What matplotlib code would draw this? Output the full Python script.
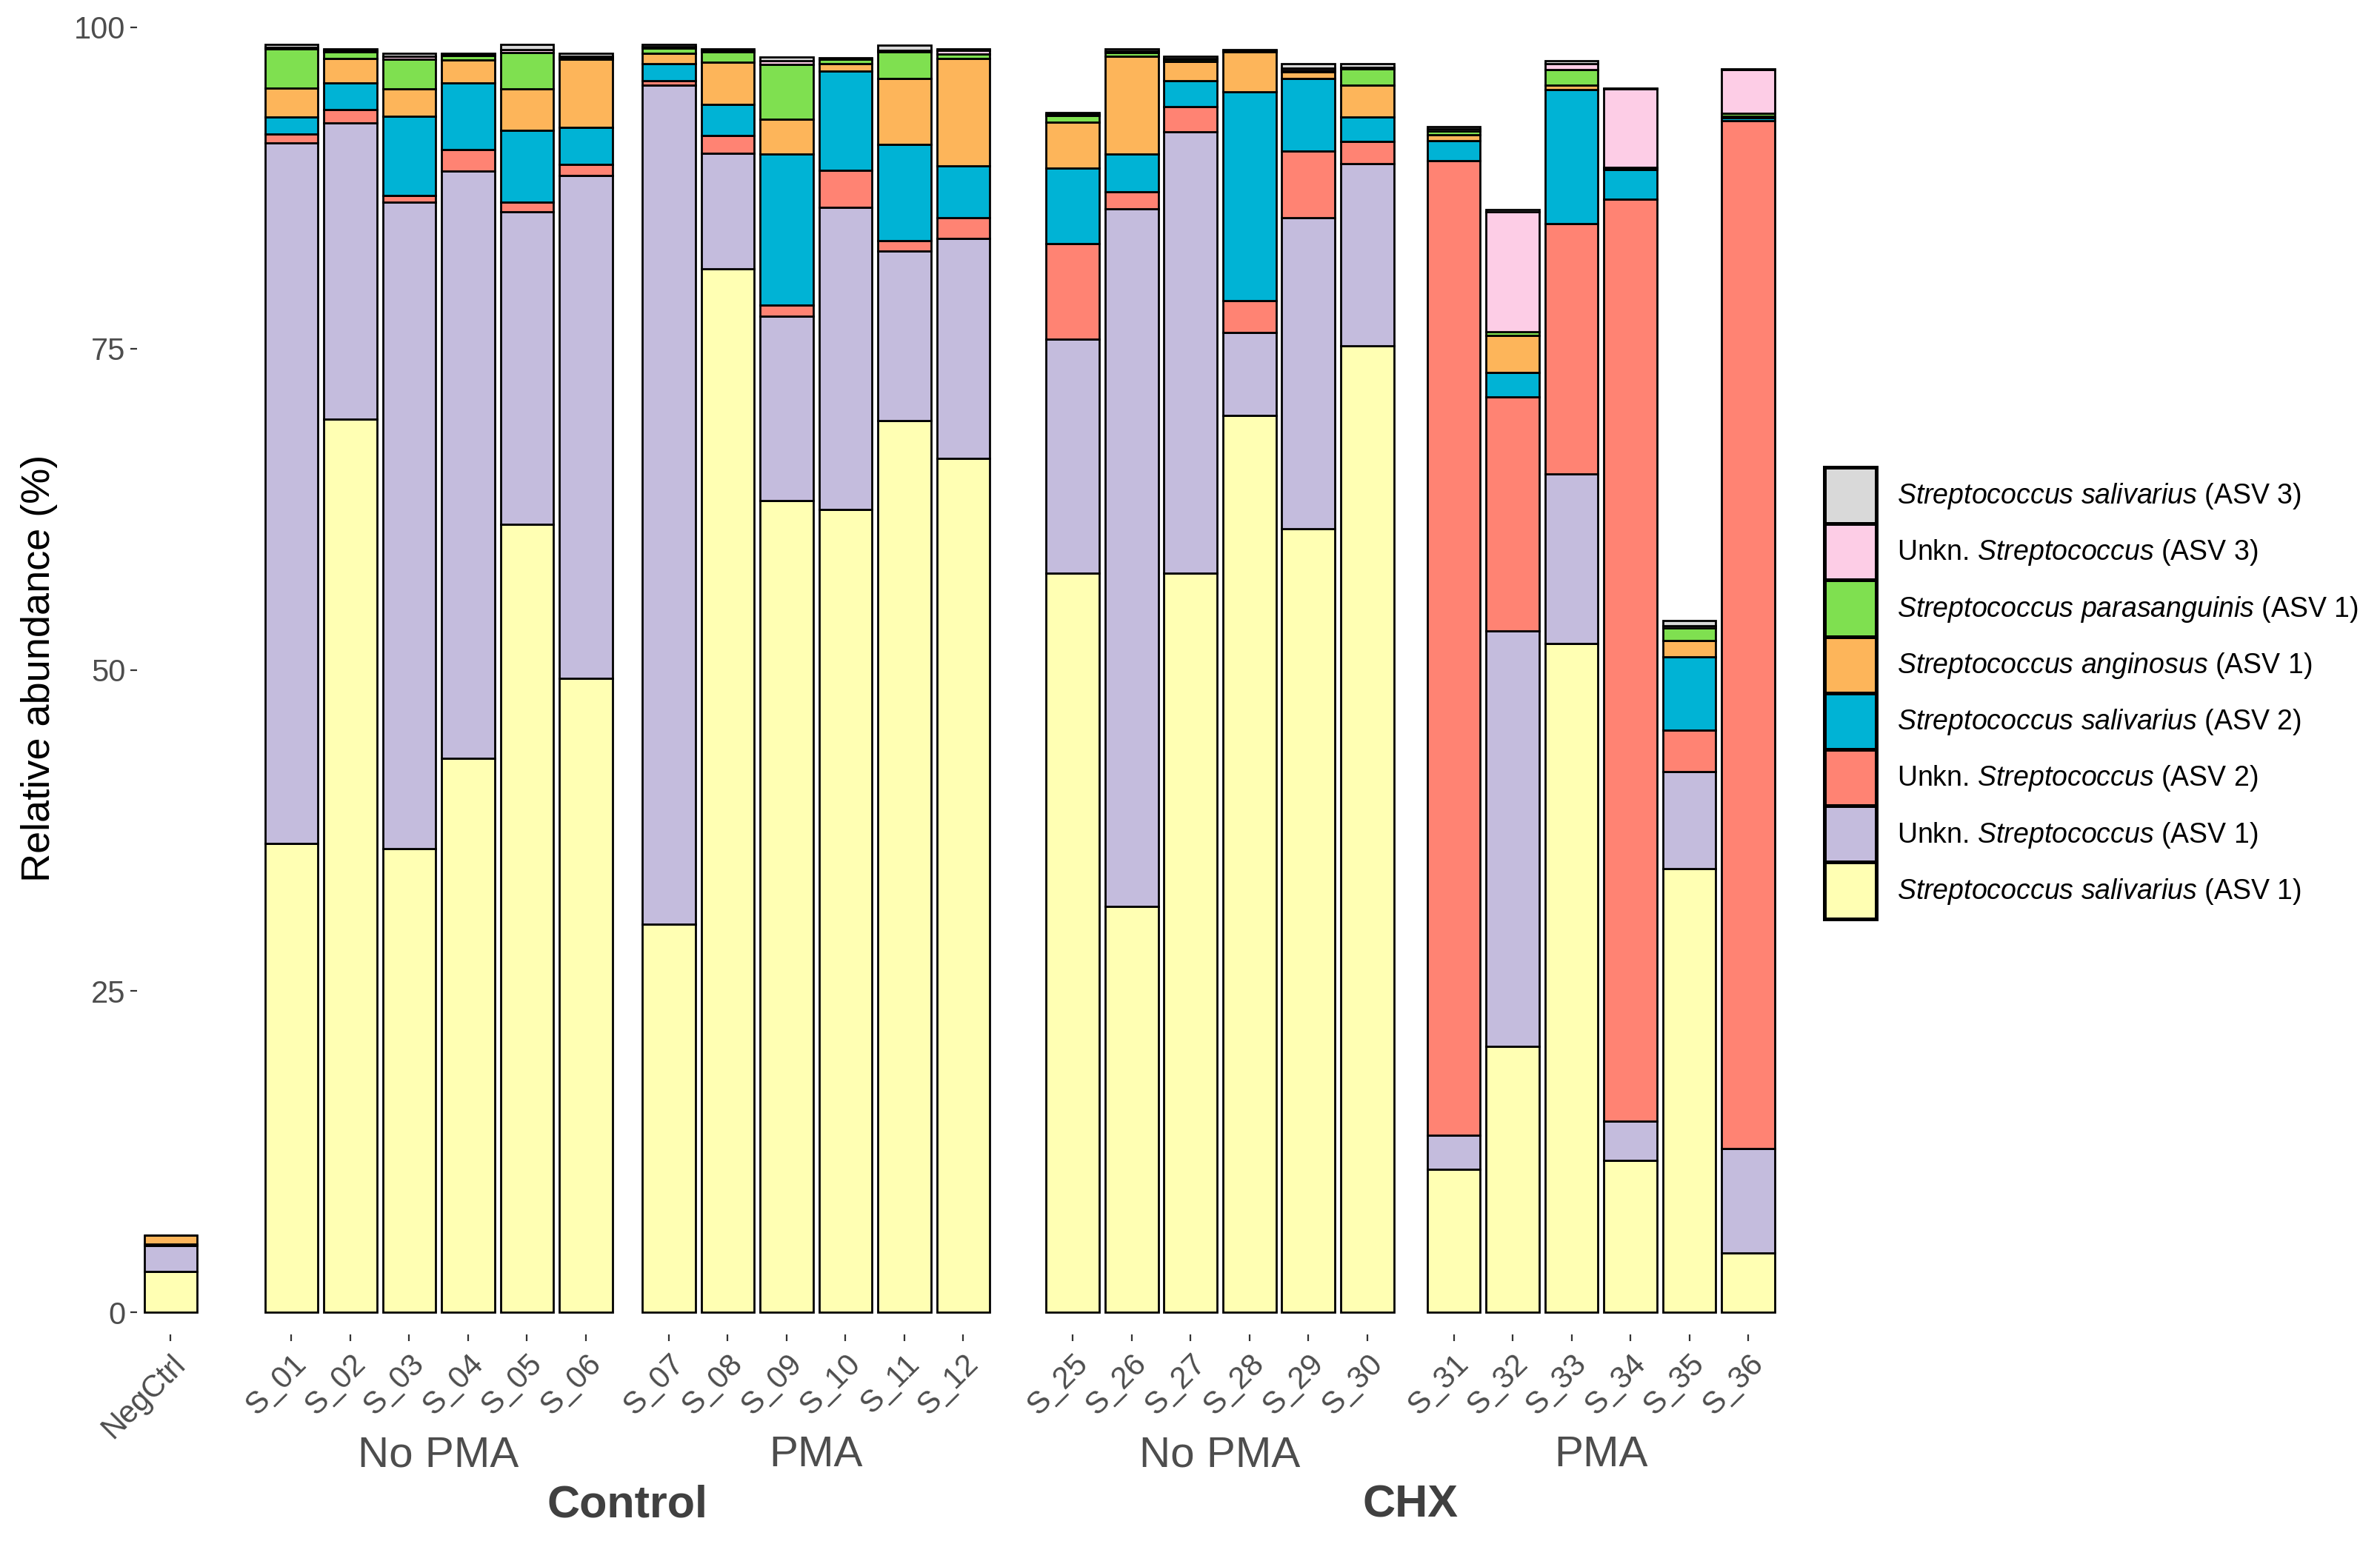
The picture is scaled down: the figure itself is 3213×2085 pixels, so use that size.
import numpy as np
import matplotlib
matplotlib.use("Agg")
import matplotlib.pyplot as plt
from matplotlib.patches import Patch
import matplotlib.transforms as mtransforms

plt.rcParams['font.family'] = ['Liberation Sans', 'DejaVu Sans']
plt.rcParams['mathtext.fontset'] = 'custom'
plt.rcParams['mathtext.rm'] = 'Liberation Sans'
plt.rcParams['mathtext.it'] = 'Liberation Sans:italic'

# muestras
samples = ['NegCtrl',
           'S_01', 'S_02', 'S_03', 'S_04', 'S_05', 'S_06',
           'S_07', 'S_08', 'S_09', 'S_10', 'S_11', 'S_12',
           'S_25', 'S_26', 'S_27', 'S_28', 'S_29', 'S_30',
           'S_31', 'S_32', 'S_33', 'S_34', 'S_35', 'S_36']

# abundancias relativas (%) por taxon, mismo orden que samples
sal_asv1 = [3.2, 36.5, 69.5, 36.1, 43.1, 61.3, 49.35, 30.2, 81.2, 63.15, 62.5, 69.4, 66.45,
            57.5, 31.6, 57.5, 69.8, 61.0, 75.2, 11.1, 20.7, 52.05, 11.8, 34.5, 4.6]
unk_asv1 = [2.0, 54.5, 23.05, 50.3, 45.7, 24.35, 39.15, 65.3, 9.0, 14.4, 23.5, 13.2, 17.1,
            18.25, 54.3, 34.35, 6.45, 24.2, 14.2, 2.7, 32.35, 13.2, 3.1, 7.6, 8.15]
unk_asv2 = [0.05, 0.7, 1.05, 0.5, 1.7, 0.75, 0.85, 0.35, 1.4, 0.85, 2.85, 0.8, 1.65,
            7.4, 1.3, 2.0, 2.5, 5.15, 1.75, 75.8, 18.2, 19.5, 71.7, 3.2, 80.0]
sal_asv2 = [0.05, 1.3, 2.1, 6.2, 5.2, 5.6, 2.85, 1.35, 2.4, 11.75, 7.75, 7.5, 4.0,
            5.9, 2.95, 2.0, 16.25, 5.7, 1.85, 1.6, 1.9, 10.4, 2.35, 5.7, 0.2]
ang_asv1 = [0.7, 2.3, 1.9, 2.1, 1.75, 3.2, 5.35, 0.8, 3.3, 2.7, 0.6, 5.1, 8.4,
            3.6, 7.6, 1.5, 3.1, 0.5, 2.5, 0.45, 2.85, 0.35, 0.1, 1.25, 0.15]
par_asv1 = [0.0, 3.0, 0.5, 2.35, 0.35, 2.85, 0.1, 0.4, 0.8, 4.25, 0.3, 2.1, 0.3,
            0.5, 0.3, 0.15, 0.05, 0.1, 1.3, 0.3, 0.3, 1.2, 0.05, 1.0, 0.2]
unk_asv3 = [0.0, 0.15, 0.1, 0.2, 0.1, 0.2, 0.1, 0.1, 0.1, 0.3, 0.05, 0.1, 0.3,
            0.1, 0.1, 0.1, 0.05, 0.2, 0.1, 0.15, 9.35, 0.5, 6.1, 0.2, 3.4]
sal_asv3 = [0.0, 0.2, 0.15, 0.25, 0.1, 0.4, 0.25, 0.2, 0.1, 0.3, 0.1, 0.4, 0.15,
            0.15, 0.15, 0.15, 0.05, 0.3, 0.25, 0.2, 0.2, 0.2, 0.05, 0.4, 0.1]

taxa = [sal_asv1, unk_asv1, unk_asv2, sal_asv2, ang_asv1, par_asv1, unk_asv3, sal_asv3]
labels = [r'$\mathit{Streptococcus\ salivarius}$ (ASV 1)',
          r'Unkn. $\mathit{Streptococcus}$ (ASV 1)',
          r'Unkn. $\mathit{Streptococcus}$ (ASV 2)',
          r'$\mathit{Streptococcus\ salivarius}$ (ASV 2)',
          r'$\mathit{Streptococcus\ anginosus}$ (ASV 1)',
          r'$\mathit{Streptococcus\ parasanguinis}$ (ASV 1)',
          r'Unkn. $\mathit{Streptococcus}$ (ASV 3)',
          r'$\mathit{Streptococcus\ salivarius}$ (ASV 3)']
colors = ['#FFFFB3', '#C4BCDD', '#FF8373', '#00B3D5', '#FDB55A', '#7FE050', '#FDCDE6', '#D9D9D9']

# grupos
groups = ['No PMA', 'PMA', 'No PMA', 'PMA']
treatments = ['Control', 'CHX']
group_start = [2.05, 8.46, 15.32, 21.79]

x = [0.0]
for g in group_start:
    x += [g + i for i in range(6)]
x = np.array(x)

fig = plt.figure(figsize=(16.065, 10.425), dpi=200)
ax = fig.add_axes([0.0576, 0.1357, 0.7484 - 0.0576, 0.9989 - 0.1357])

bottom = np.zeros(len(samples))
for vals, c in zip(taxa, colors):
    v = np.array(vals)
    ax.bar(x, v, bottom=bottom, width=0.9, color=c, edgecolor='black', linewidth=1.0)
    bottom += v

ax.set_xlim(-0.57, 27.35)
ax.set_ylim(-1.73, 102)
for s in ax.spines.values():
    s.set_visible(False)

ax.set_yticks([0, 25, 50, 75, 100])
ax.set_yticklabels(['0', '25', '50', '75', '100'])
ax.set_xticks(x)
ax.set_xticklabels(samples, rotation=45, ha='right', va='top', rotation_mode='anchor')
ax.tick_params(axis='both', length=3.2, width=0.8, color='#333333', labelcolor='#4D4D4D',
               labelsize=15, pad=2.5)
ax.tick_params(axis='x', pad=4)
ax.set_ylabel('Relative abundance (%)', fontsize=19.5, labelpad=8)

trans = mtransforms.blended_transform_factory(ax.transData, fig.transFigure)
for i, g in enumerate(groups):
    cx = group_start[i] + 2.5
    ax.text(cx, 0.0575, g, transform=trans, ha='center', va='center',
            fontsize=21, color='#4D4D4D')
for i, t in enumerate(treatments):
    cx = (group_start[2 * i] + group_start[2 * i + 1] + 5) / 2
    ax.text(cx, 0.0250, t, transform=trans, ha='center', va='center',
            fontsize=22, fontweight='bold', color='#404040')

handles = [Patch(facecolor=c, edgecolor='black', linewidth=1.8) for c in colors]
fig.legend(handles[::-1], labels[::-1], loc='upper left',
           bbox_to_anchor=(0.7666, 0.6974), bbox_transform=fig.transFigure,
           frameon=False, fontsize=13.5, handlelength=1.87, handleheight=2.75,
           labelspacing=0, handletextpad=0.75, borderpad=0, borderaxespad=0)

fig.savefig('out.png', dpi=200)
